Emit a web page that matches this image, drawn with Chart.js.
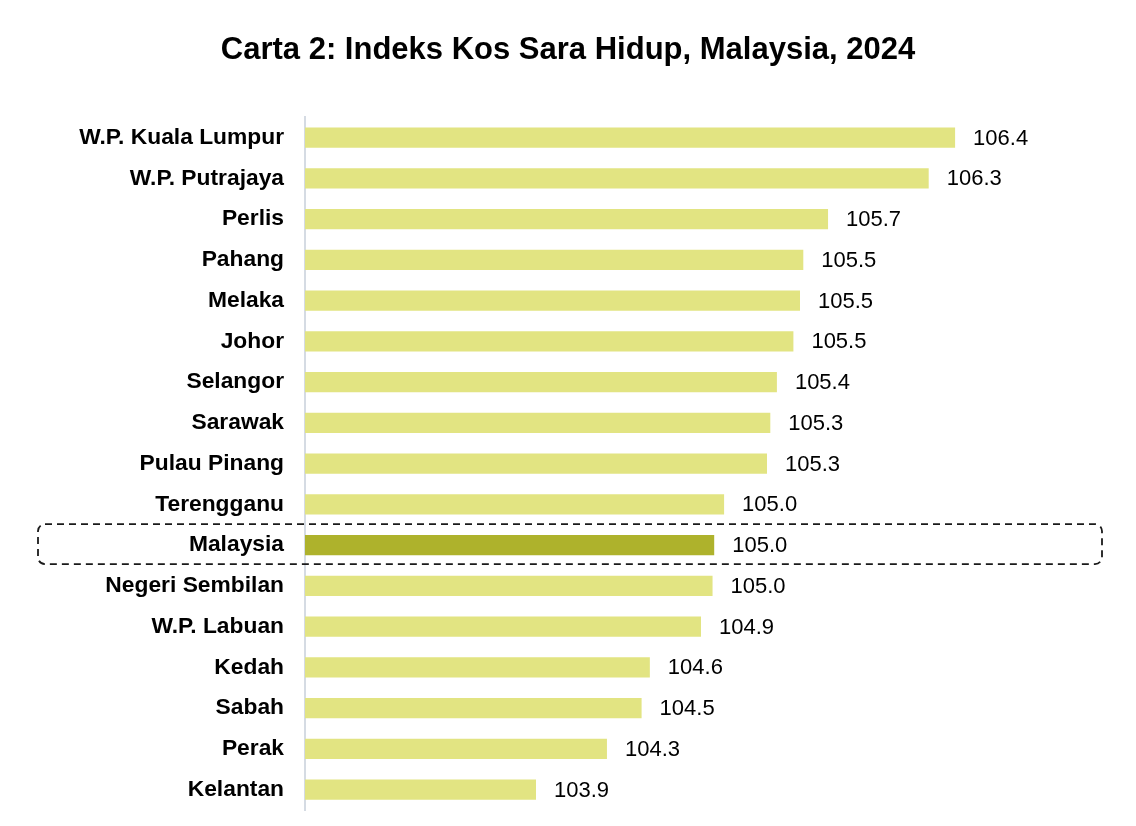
<!DOCTYPE html>
<html>
<head>
<meta charset="utf-8">
<title>Carta 2: Indeks Kos Sara Hidup, Malaysia, 2024</title>
<script src="https://cdn.jsdelivr.net/npm/chart.js@4.4.1/dist/chart.umd.min.js"></script>
<style>
	html, body { margin: 0; padding: 0; background: #ffffff; }
	#wrap { width: 1136px; height: 826px; position: relative; }
</style>
</head>
<body>
<div id="wrap"><canvas id="kosSaraHidup"></canvas></div>
<script>
const states = [
	"W.P. Kuala Lumpur",
	"W.P. Putrajaya",
	"Perlis",
	"Pahang",
	"Melaka",
	"Johor",
	"Selangor",
	"Sarawak",
	"Pulau Pinang",
	"Terengganu",
	"Malaysia",
	"Negeri Sembilan",
	"W.P. Labuan",
	"Kedah",
	"Sabah",
	"Perak",
	"Kelantan",
];
// index values (bars are drawn unrounded, labels show one decimal)
const indexValues = [
	106.44, 106.28, 105.67, 105.52, 105.5, 105.46, 105.36, 105.32, 105.3,
	105.04, 104.98, 104.97, 104.9, 104.59, 104.54, 104.33, 103.9,
];
const highlight = "Malaysia";

const fontFamily = "'Liberation Sans', Arial, Helvetica, sans-serif";
const ctx = document.getElementById("kosSaraHidup");

// value labels at the end of each bar
const valueLabels = {
	id: "valueLabels",
	afterDatasetsDraw(chart) {
		const c = chart.ctx;
		const meta = chart.getDatasetMeta(0);
		c.save();
		c.font = "22px " + fontFamily;
		c.fillStyle = "#000000";
		c.textAlign = "left";
		c.textBaseline = "middle";
		meta.data.forEach((bar, i) => {
			c.fillText(indexValues[i].toFixed(1), bar.x + 18, bar.y + 1);
		});
		c.restore();
	},
};

// dashed frame around the national figure
const highlightBox = {
	id: "highlightBox",
	afterDraw(chart) {
		const y = chart.scales.y;
		const i = states.indexOf(highlight);
		const mid = y.getPixelForValue(i);
		const c = chart.ctx;
		c.save();
		c.strokeStyle = "#1a1a1a";
		c.lineWidth = 1.8;
		c.setLineDash([7, 5]);
		c.beginPath();
		c.roundRect(38, mid - 21, chart.width - 38 - 34, 40, 7);
		c.stroke();
		c.restore();
	},
};

new Chart(ctx, {
	type: "bar",
	data: {
		labels: states,
		datasets: [
			{
				data: indexValues,
				backgroundColor: states.map((s) => (s === highlight ? "#aeb22c" : "#e2e482")),
				barPercentage: 0.5,
				categoryPercentage: 1,
			},
		],
	},
	options: {
		indexAxis: "y",
		responsive: true,
		maintainAspectRatio: false,
		animation: false,
		layout: {
			padding: { top: 0, left: 39, right: 39, bottom: 16 },
		},
		plugins: {
			legend: { display: false },
			tooltip: { enabled: false },
			title: {
				display: true,
				text: "Carta 2: Indeks Kos Sara Hidup, Malaysia, 2024",
				color: "#000000",
				font: { family: fontFamily, size: 31, weight: "bold" },
				padding: { top: 32, bottom: 48 },
			},
		},
		scales: {
			x: {
				display: false,
				min: 102.5,
				max: 107.3,
			},
			y: {
				afterFit: (scale) => {
					scale.width = 266;
					scale.paddingTop = 0;
					scale.paddingBottom = 0;
				},
				grid: { display: false, drawTicks: false },
				border: { display: true, color: "#d5dbe3", width: 2 },
				ticks: {
					color: "#000000",
					padding: 21,
					font: { family: fontFamily, size: 22.8, weight: "bold" },
				},
			},
		},
	},
	plugins: [valueLabels, highlightBox],
});
</script>
</body>
</html>
